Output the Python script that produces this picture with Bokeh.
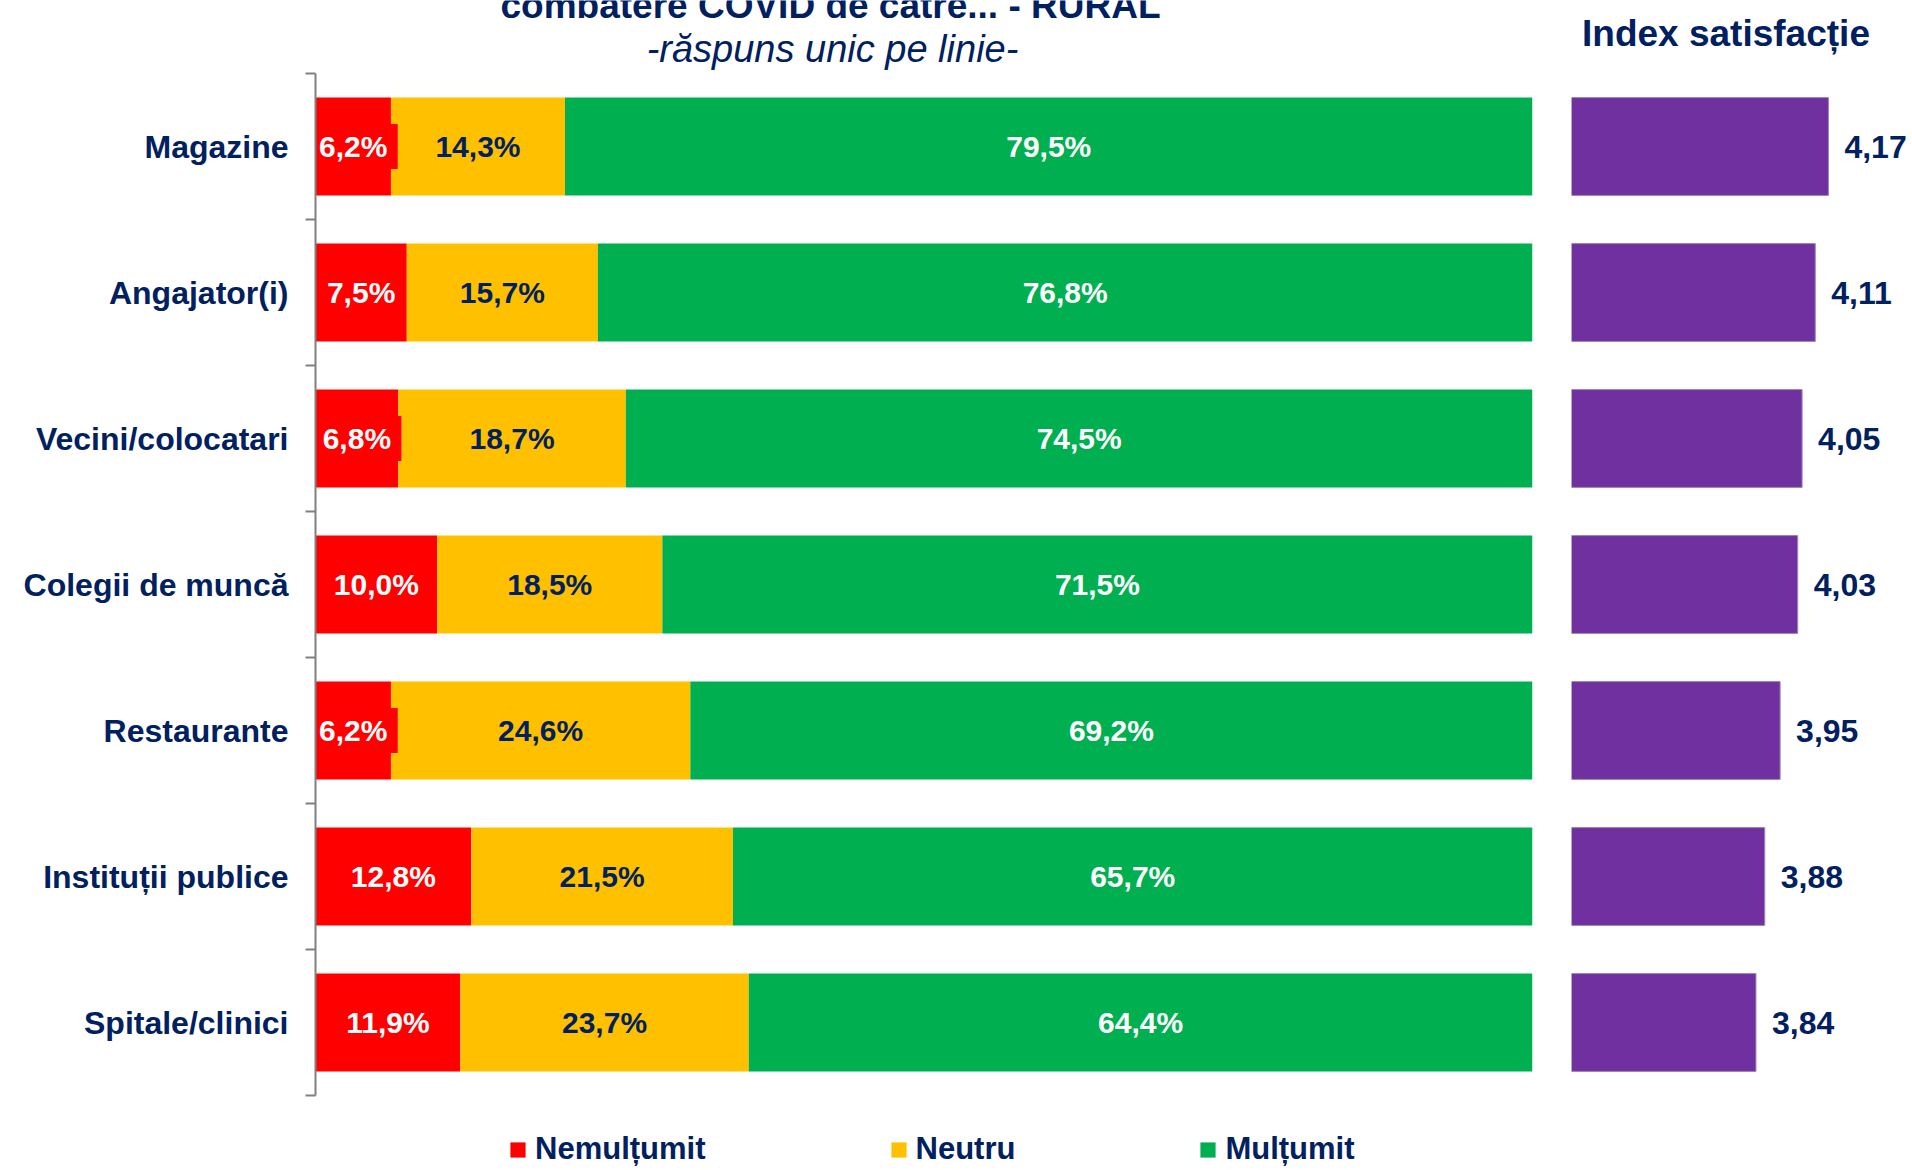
from bokeh.plotting import figure
from bokeh.models import (ColumnDataSource, Range1d, FixedTicker, LabelSet, Label,
                          Legend, LegendItem)
from bokeh.layouts import row
from bokeh.core.properties import value
from bokeh.embed import file_html
from bokeh.resources import INLINE

# ---------------- data ----------------
categories = ["Magazine", "Angajator(i)", "Vecini/colocatari", "Colegii de muncă",
              "Restaurante", "Instituții publice", "Spitale/clinici"]
nemultumit = [6.2, 7.5, 6.8, 10.0, 6.2, 12.8, 11.9]
neutru = [14.3, 15.7, 18.7, 18.5, 24.6, 21.5, 23.7]
multumit = [79.5, 76.8, 74.5, 71.5, 69.2, 65.7, 64.4]
index_satisfactie = [4.17, 4.11, 4.05, 4.03, 3.95, 3.88, 3.84]
series_names = ["Nemulțumit", "Neutru", "Mulțumit"]
title_line1 = "combatere COVID de către... - RURAL"
title_line2 = "-răspuns unic pe linie-"
index_title = "Index satisfacție"

# ---------------- style ----------------
RED, ORANGE, GREEN, PURPLE = "#FF0000", "#FFC000", "#00B050", "#7030A0"
NAVY = "#002060"
GREY = "#808080"
FONT_NAME = "Liberation Sans"
FONT = value(FONT_NAME)
BAR_H = 0.67

n = len(categories)
ypos = [n - i - 0.5 for i in range(n)]  # first category at top

# vertical extent of the frames (category units); frame covers whole canvas height
Y_HIGH = n + 0.5
Y_LOW = Y_HIGH - 1170 / 146.0
FRAME_H = 1170


def pct(v):
    return f"{v:.1f}%".replace(".", ",")


src = ColumnDataSource(dict(
    y=ypos, cat=categories, nem=nemultumit, neu=neutru, mul=multumit,
    x_nem=[a / 2 for a in nemultumit],
    x_neu=[a + b / 2 for a, b in zip(nemultumit, neutru)],
    x_mul=[a + b + c / 2 for a, b, c in zip(nemultumit, neutru, multumit)],
    t_nem=[pct(v) for v in nemultumit],
    t_neu=[pct(v) for v in neutru],
    t_mul=[pct(v) for v in multumit],
))

p = figure(frame_width=1217, frame_height=FRAME_H,
           x_range=Range1d(0, 100), y_range=Range1d(Y_LOW, Y_HIGH),
           output_backend="svg", toolbar_location=None,
           x_axis_location=None, y_axis_location="left",
           min_border_left=315, min_border_right=18, min_border_top=0,
           min_border_bottom=0, outline_line_color=None, background_fill_color="white",
           border_fill_color="white")
p.grid.visible = False

renderers = p.hbar_stack(["nem", "neu", "mul"], y="y", height=BAR_H,
                         color=[RED, ORANGE, GREEN], line_color=None, source=src)

# red data-label boxes (Excel style label fill), sized in screen pixels
p.rect(x="x_nem", y="y", width=89, height=45, width_units="screen",
       height_units="screen", fill_color=RED, line_color=None, source=src)

ax = p.yaxis[0]
ax.bounds = (0, n)
ax.ticker = FixedTicker(ticks=ypos, minor_ticks=list(range(n + 1)))
ax.major_label_overrides = {float(y): c for y, c in zip(ypos, categories)}
ax.major_tick_line_color = None
ax.major_tick_in = 0
ax.major_tick_out = 0
ax.minor_tick_in = 0
ax.minor_tick_out = 10
ax.minor_tick_line_color = GREY
ax.minor_tick_line_width = 2
ax.axis_line_color = GREY
ax.axis_line_width = 2
ax.major_label_standoff = 17
ax.major_label_text_font = FONT_NAME
ax.major_label_text_font_size = "32px"
ax.major_label_text_font_style = "bold"
ax.major_label_text_color = NAVY

common = dict(source=src, text_align="center", text_baseline="middle",
              text_font=FONT, text_font_size="30px", text_font_style="bold")

lab_red = LabelSet(x="x_nem", y="y", text="t_nem", text_color="white", **common)
lab_neu = LabelSet(x="x_neu", y="y", text="t_neu", text_color=NAVY, **common)
lab_mul = LabelSet(x="x_mul", y="y", text="t_mul", text_color="white", **common)
for l in (lab_red, lab_neu, lab_mul):
    p.add_layout(l)

legend = Legend(items=[LegendItem(label=nm, renderers=[r]) for nm, r in zip(series_names, renderers)],
                orientation="horizontal", location=(193, 3),
                glyph_width=19, glyph_height=19, label_standoff=8, spacing=183,
                padding=0, margin=0, border_line_color=None, background_fill_alpha=0,
                label_text_font=FONT_NAME, label_text_font_size="31px",
                label_text_font_style="bold", label_text_color=NAVY)
p.add_layout(legend)

p.add_layout(Label(x=830, y=5, x_units="canvas", y_units="canvas", text=title_line1,
                   text_align="center", text_baseline="alphabetic", text_font=FONT_NAME,
                   text_font_size="37px", text_font_style="bold", text_color=NAVY))
p.add_layout(Label(x=832, y=48, x_units="canvas", y_units="canvas", text=title_line2,
                   text_align="center", text_baseline="alphabetic", text_font=FONT_NAME,
                   text_font_size="38px", text_font_style="italic", text_color=NAVY))

# ---------------- index panel ----------------
src2 = ColumnDataSource(dict(y=ypos, idx=index_satisfactie,
                             t=[f"{v:.2f}".replace(".", ",") for v in index_satisfactie]))
IDX_MIN = 3.0
IDX_FRAME_W = 341
IDX_MAX = IDX_MIN + IDX_FRAME_W / 219.6
p2 = figure(frame_width=IDX_FRAME_W, frame_height=FRAME_H,
            x_range=Range1d(IDX_MIN, IDX_MAX), y_range=Range1d(Y_LOW, Y_HIGH),
            output_backend="svg", toolbar_location=None,
            x_axis_location=None, y_axis_location=None,
            min_border_left=21, min_border_right=0, min_border_top=0,
            min_border_bottom=0, outline_line_color=None)
p2.grid.visible = False
p2.hbar(y="y", left=IDX_MIN, right="idx", height=BAR_H, color=PURPLE,
        line_color="#9a86b0", line_width=1, source=src2)
p2.add_layout(LabelSet(x="idx", y="y", text="t", x_offset=16, source=src2,
                       text_align="left", text_baseline="middle", text_font=FONT,
                       text_font_size="32px", text_font_style="bold", text_color=NAVY))
p2.add_layout(Label(x=175.5, y=33, x_units="canvas", y_units="canvas", text=index_title,
                    text_align="center", text_baseline="alphabetic", text_font=FONT_NAME,
                    text_font_size="37px", text_font_style="bold", text_color=NAVY))

layout = row(p, p2)
open("out.html", "w").write(file_html(layout, INLINE))
